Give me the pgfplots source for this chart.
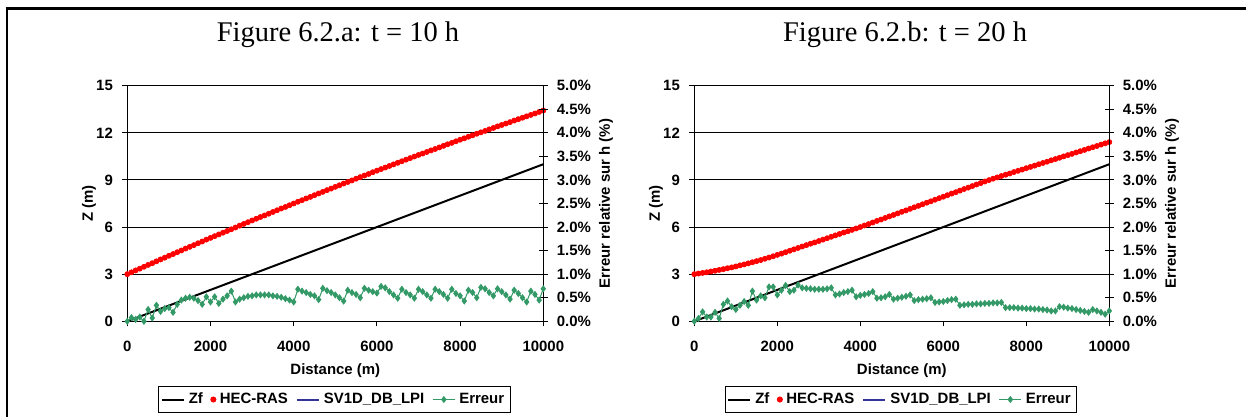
\documentclass[border=0pt]{standalone}
\usepackage{fontspec}
\setmainfont{Liberation Sans}
\newfontfamily\seriffont{Liberation Serif}
\usepackage{pgfplots}
\usepackage{pgfplotstable}
\pgfplotsset{compat=1.18}
\definecolor{hecred}{RGB}{255,0,0}
\definecolor{errgreen}{RGB}{51,153,102}
\definecolor{svblue}{RGB}{51,51,153}

\pgfplotstableread{
x hec err
0 3.00 0.00
100 3.12 0.08
200 3.24 0.04
300 3.35 0.09
400 3.47 0.00
500 3.59 0.25
600 3.70 0.07
700 3.82 0.34
800 3.94 0.21
900 4.05 0.27
1000 4.17 0.29
1100 4.28 0.19
1200 4.40 0.36
1300 4.51 0.45
1400 4.63 0.49
1500 4.74 0.51
1600 4.85 0.49
1700 4.97 0.44
1800 5.08 0.36
1900 5.20 0.52
2000 5.31 0.41
2100 5.42 0.52
2200 5.53 0.38
2300 5.64 0.47
2400 5.75 0.54
2500 5.86 0.64
2600 5.97 0.41
2700 6.09 0.47
2800 6.20 0.50
2900 6.31 0.53
3000 6.42 0.54
3100 6.53 0.56
3200 6.64 0.56
3300 6.74 0.56
3400 6.85 0.56
3500 6.96 0.54
3600 7.07 0.53
3700 7.18 0.51
3800 7.28 0.48
3900 7.39 0.45
4000 7.50 0.41
4100 7.61 0.68
4200 7.71 0.64
4300 7.82 0.61
4400 7.92 0.57
4500 8.03 0.54
4600 8.14 0.46
4700 8.24 0.70
4800 8.35 0.65
4900 8.45 0.61
5000 8.56 0.56
5100 8.66 0.50
5200 8.77 0.43
5300 8.87 0.66
5400 8.97 0.61
5500 9.08 0.57
5600 9.18 0.50
5700 9.28 0.70
5800 9.38 0.66
5900 9.49 0.63
6000 9.59 0.60
6100 9.69 0.74
6200 9.79 0.71
6300 9.89 0.63
6400 9.99 0.56
6500 10.09 0.49
6600 10.19 0.68
6700 10.29 0.61
6800 10.39 0.56
6900 10.49 0.49
7000 10.59 0.68
7100 10.68 0.63
7200 10.78 0.56
7300 10.88 0.49
7400 10.97 0.68
7500 11.07 0.63
7600 11.17 0.57
7700 11.27 0.49
7800 11.36 0.68
7900 11.46 0.59
8000 11.56 0.54
8100 11.65 0.43
8200 11.75 0.66
8300 11.84 0.61
8400 11.94 0.50
8500 12.03 0.72
8600 12.12 0.69
8700 12.22 0.61
8800 12.31 0.54
8900 12.41 0.69
9000 12.50 0.63
9100 12.59 0.56
9200 12.68 0.47
9300 12.78 0.66
9400 12.87 0.59
9500 12.96 0.50
9600 13.05 0.41
9700 13.14 0.64
9800 13.23 0.57
9900 13.33 0.45
10000 13.42 0.69
}\tableA

\pgfplotstableread{
x hec err
0 3.00 0.00
100 3.04 0.06
200 3.08 0.20
300 3.12 0.09
400 3.17 0.09
500 3.22 0.19
600 3.27 0.06
700 3.32 0.36
800 3.38 0.43
900 3.43 0.31
1000 3.49 0.25
1100 3.56 0.34
1200 3.62 0.42
1300 3.69 0.34
1400 3.76 0.64
1500 3.83 0.45
1600 3.90 0.54
1700 3.98 0.50
1800 4.06 0.73
1900 4.14 0.73
2000 4.23 0.56
2100 4.31 0.66
2200 4.40 0.76
2300 4.49 0.63
2400 4.58 0.66
2500 4.67 0.77
2600 4.76 0.71
2700 4.85 0.70
2800 4.94 0.69
2900 5.02 0.68
3000 5.11 0.68
3100 5.20 0.68
3200 5.29 0.69
3300 5.38 0.71
3400 5.47 0.56
3500 5.56 0.58
3600 5.65 0.61
3700 5.73 0.63
3800 5.82 0.66
3900 5.91 0.52
4000 6.00 0.55
4100 6.10 0.57
4200 6.19 0.59
4300 6.29 0.63
4400 6.39 0.49
4500 6.48 0.50
4600 6.58 0.52
4700 6.68 0.57
4800 6.77 0.47
4900 6.87 0.49
5000 6.97 0.51
5100 7.06 0.53
5200 7.16 0.56
5300 7.26 0.44
5400 7.35 0.46
5500 7.45 0.47
5600 7.55 0.48
5700 7.64 0.50
5800 7.74 0.40
5900 7.84 0.41
6000 7.93 0.42
6100 8.03 0.44
6200 8.13 0.46
6300 8.22 0.47
6400 8.32 0.34
6500 8.42 0.35
6600 8.51 0.36
6700 8.61 0.36
6800 8.71 0.37
6900 8.80 0.37
7000 8.90 0.38
7100 8.99 0.38
7200 9.08 0.39
7300 9.16 0.39
7400 9.25 0.40
7500 9.33 0.29
7600 9.41 0.29
7700 9.50 0.29
7800 9.58 0.28
7900 9.66 0.28
8000 9.75 0.27
8100 9.83 0.27
8200 9.91 0.26
8300 10.00 0.26
8400 10.08 0.25
8500 10.16 0.24
8600 10.25 0.22
8700 10.33 0.22
8800 10.41 0.31
8900 10.50 0.30
9000 10.58 0.28
9100 10.66 0.27
9200 10.75 0.25
9300 10.83 0.23
9400 10.91 0.21
9500 11.00 0.19
9600 11.08 0.25
9700 11.16 0.22
9800 11.25 0.19
9900 11.33 0.15
10000 11.41 0.22
}\tableB

\pgfplotsset{
 panelbase/.style={
  scale only axis, width=208bp, height=117.8bp,
  xmin=0, xmax=10000, clip=false,
  /pgf/number format/assume math mode=true,
  tick label style={font=\bfseries\fontsize{7.5}{9}\selectfont},
  label style={font=\bfseries\fontsize{7.5}{9}\selectfont},
  axis line style={line width=0.5bp},
  every tick/.style={line width=0.5bp, black},
 },
 leftaxis/.style={panelbase,
  ymin=0, ymax=15, ytick={0,3,6,9,12,15}, xtick={0,2000,4000,6000,8000,10000},
  scaled x ticks=false,
  xticklabel style={/pgf/number format/1000 sep={}, yshift=-4bp},
  yticklabel style={xshift=-1.2bp},
  tick align=outside, xtick pos=bottom, ytick pos=left, major tick length=2.5bp,
  ymajorgrids, grid style={line width=0.5bp, black},
  xlabel={Distance (m)}, ylabel={Z (m)},
  xlabel style={at={(axis description cs:0.5,-0.21)}, anchor=center},
  ylabel style={at={(axis description cs:-0.092,0.5)}, anchor=center},
  legend columns=4,
  legend style={at={(0.498,-0.332)}, anchor=center, draw=black, line width=0.5bp,
    font=\bfseries\fontsize{7.5}{9}\selectfont, inner xsep=1bp, inner ysep=1bp,
    /tikz/every even column/.append style={column sep=2bp}},
  legend image code/.code={\draw[mark repeat=2,mark phase=2,##1] plot coordinates {(0bp,0bp) (5.5bp,0bp) (11bp,0bp)};},
 },
 rightaxis/.style={panelbase,
  axis x line=none, axis y line*=right,
  ymin=0, ymax=5, ytick={0,0.5,1,1.5,2,2.5,3,3.5,4,4.5,5},
  yticklabel={\pgfmathprintnumber[fixed,fixed zerofill,precision=1]{\tick}\%},
  yticklabel style={xshift=1bp},
  tick align=center, major tick length=4.5bp,
  ylabel={Erreur relative sur h (\%)},
  ylabel style={at={(axis description cs:1.151,0.5)}, anchor=center},
 },
 zfstyle/.style={black, line width=1bp},
 hecstyle/.style={only marks, mark=*, mark size=1.25bp, hecred, mark options={draw=hecred, fill=hecred}},
 svstyle/.style={svblue, line width=1bp},
 errstyle/.style={errgreen, line width=0.5bp, mark=diamond*, mark size=1.4bp, mark options={fill=errgreen, draw=errgreen}},
}

\begin{document}
\begin{tikzpicture}
\path[use as bounding box] (0,0) rectangle (623bp,208.5bp);
\draw[line width=1.15bp] (2.8bp,204.2bp) -- (623bp,204.2bp);
\draw[line width=1.15bp] (3.35bp,204.8bp) -- (3.35bp,0bp);

\node[anchor=base, font=\seriffont\fontsize{14.3}{16}\selectfont] at (169bp,187.6bp) {Figure 6.2.a: t = 10 h};
\node[anchor=base, font=\seriffont\fontsize{14.3}{16}\selectfont] at (452.5bp,187.6bp) {Figure 6.2.b: t = 20 h};

% Panel a
\begin{axis}[leftaxis, at={(63.65bp,47.85bp)}, anchor=south west]
\addplot[zfstyle, forget plot] coordinates {(0,0) (10000,10)};
\addplot[svstyle, forget plot] table[x=x, y=hec] {\tableA};
\addplot[hecstyle, forget plot] table[x=x, y=hec] {\tableA};
\addlegendimage{zfstyle}
\addlegendentry{Zf}
\addlegendimage{hecstyle}
\addlegendentry{HEC-RAS}
\addlegendimage{svstyle}
\addlegendentry{SV1D\_DB\_LPI}
\addlegendimage{errstyle}
\addlegendentry{Erreur}
\end{axis}
\begin{axis}[rightaxis, at={(63.65bp,47.85bp)}, anchor=south west]
\addplot[errstyle] table[x=x, y=err] {\tableA};
\end{axis}

% Panel b
\begin{axis}[leftaxis, at={(347.15bp,47.85bp)}, anchor=south west, width=207.5bp]
\addplot[zfstyle, forget plot] coordinates {(0,0) (10000,10)};
\addplot[svstyle, forget plot] table[x=x, y=hec] {\tableB};
\addplot[hecstyle, forget plot] table[x=x, y=hec] {\tableB};
\addlegendimage{zfstyle}
\addlegendentry{Zf}
\addlegendimage{hecstyle}
\addlegendentry{HEC-RAS}
\addlegendimage{svstyle}
\addlegendentry{SV1D\_DB\_LPI}
\addlegendimage{errstyle}
\addlegendentry{Erreur}
\end{axis}
\begin{axis}[rightaxis, at={(347.15bp,47.85bp)}, anchor=south west, width=207.5bp]
\addplot[errstyle] table[x=x, y=err] {\tableB};
\end{axis}
\end{tikzpicture}
\end{document}
